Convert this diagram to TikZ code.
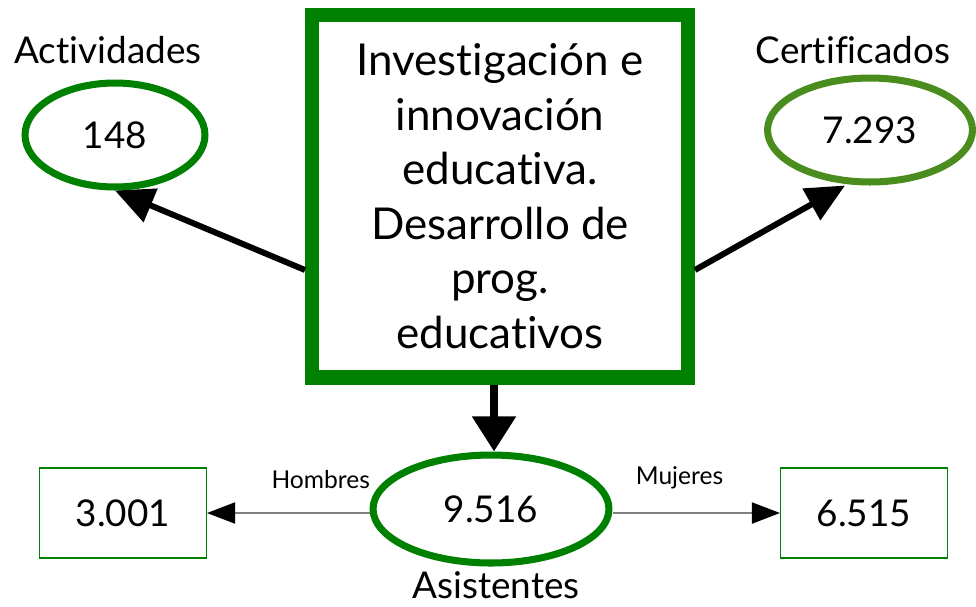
\documentclass[tikz,border=0pt]{standalone}
\usepackage{fontspec}
\setmainfont{Lato}[Ligatures=NoCommon]
\usetikzlibrary{shapes.geometric,arrows.meta}

\definecolor{darkgreen}{RGB}{0,128,0}
\definecolor{olivegreen}{RGB}{74,140,30}

\tikzset{
    oval/.style={ellipse, draw=darkgreen, line width=4pt, inner sep=0pt,
        font=\fontsize{21}{25}\selectfont},
    valbox/.style={rectangle, draw=darkgreen, line width=0.6pt,
        minimum width=3.34cm, minimum height=1.8cm, font=\fontsize{21}{25}\selectfont},
    bigarrow/.style={line width=3.4pt, -{Triangle[length=22pt,width=20pt]}},
    thinarrow/.style={draw=gray, line width=1.1pt, -{Triangle[length=16pt,width=12pt,fill=black,color=black]}},
    title/.style={font=\fontsize{21}{24}\selectfont}
}

\begin{document}
\begin{tikzpicture}[x=0.02cm,y=-0.02cm]
    \useasboundingbox (0,0) rectangle (976,606);

    % central box
    \node[draw=darkgreen, line width=8pt, minimum width=7.52cm, minimum height=7.26cm,
          align=center, font=\fontsize{25}{31}\selectfont] (main) at (500,196)
        {Investigación e\\innovación\\educativa.\\Desarrollo de\\prog.\\educativos};

    % counters
    \node[oval, minimum width=3.6cm, minimum height=2.08cm] (act) at (115,135) {148};
    \node[oval, draw=olivegreen, minimum width=4.1cm, minimum height=2.08cm] (cert) at (870,130) {7.293};
    \node[oval, minimum width=4.72cm, minimum height=2.16cm] (asis) at (491,509) {9.516};

    \node[title] (acttitle) at (108,50) {Actividades};
    \node[title] (certtitle) at (853,50) {Certificados};
    \node[title] (asistitle) at (496,585) {Asistentes};

    \node[valbox] (men) at (123,513) {3.001};
    \node[valbox] (women) at (864,513) {6.515};

    % arrows
    \draw[bigarrow] ([yshift=-1.48cm]main.west) -- (act.south);
    \draw[bigarrow] ([yshift=-1.48cm]main.east) -- ([xshift=-0.5cm]cert.south);
    \draw[line width=4.5pt, -{Triangle[length=20pt,width=24pt]}] ([xshift=-0.12cm]main.south) -- ([xshift=-0.12cm]main.south |- asis.north);

    \draw[thinarrow] (asis.west |- men.east) -- node[pos=0.3, above=0.35cm, font=\fontsize{14}{16}\selectfont] {Hombres} (men.east);
    \draw[thinarrow] (asis.east |- women.west) -- node[pos=0.4, above=0.35cm, font=\fontsize{14}{16}\selectfont] {Mujeres} (women.west);
\end{tikzpicture}
\end{document}
